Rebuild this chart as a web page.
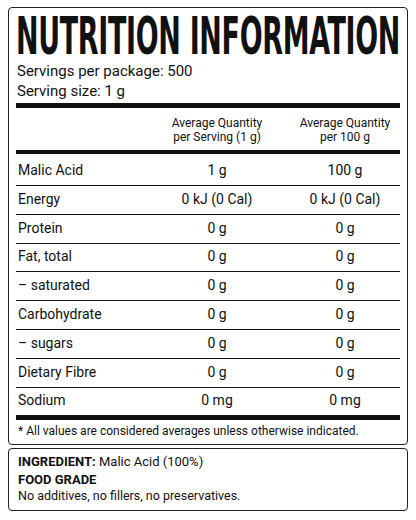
<!DOCTYPE html><html><head><meta charset="utf-8">
<script src="https://cdn.jsdelivr.net/npm/chart.js@4"></script>
<style>
body{margin:0;width:416px;height:520px;background:#fff;font-family:Roboto,"Noto Sans",sans-serif;color:#111;position:relative;overflow:hidden}
.box{position:absolute;border:1.5px solid #222;border-radius:4px;box-sizing:border-box}
.t{position:absolute;white-space:nowrap;line-height:1}
.c{transform:translateX(-50%);text-align:center}
.hr{position:absolute;left:16px;width:384px;background:#111}
#title{position:absolute;left:16px;top:15px;font-family:"Liberation Sans Narrow","DejaVu Sans Condensed",sans-serif;font-weight:bold;font-size:51px;line-height:0.85;transform-origin:0 0;white-space:nowrap;letter-spacing:-0.5px}
</style></head><body>
<div class="box" style="left:8px;top:7px;width:400px;height:438px"></div>
<div class="box" style="left:8px;top:448px;width:400px;height:63px"></div>
<div id="title">NUTRITION INFORMATION</div>
<div id="root"></div>
<script>
const title="NUTRITION INFORMATION";
const servingsLines=["Servings per package: 500","Serving size: 1 g"];
const headers=[["Average Quantity","per Serving (1 g)"],["Average Quantity","per 100 g"]];
const nutrients=["Malic Acid","Energy","Protein","Fat, total","\u2013 saturated","Carbohydrate","\u2013 sugars","Dietary Fibre","Sodium"];
const perServing=["1 g","0 kJ (0 Cal)","0 g","0 g","0 g","0 g","0 g","0 g","0 mg"];
const per100g=["100 g","0 kJ (0 Cal)","0 g","0 g","0 g","0 g","0 g","0 g","0 mg"];
const footnote="* All values are considered averages unless otherwise indicated.";
const ingredientLabel="INGREDIENT:", ingredientText=" Malic Acid (100%)";
const grade="FOOD GRADE", gradeNote="No additives, no fillers, no preservatives.";

const root=document.getElementById('root');
function t(txt,x,y,size,extra){const d=document.createElement('div');d.className='t'+(extra&&extra.c?' c':'');d.style.left=x+'px';d.style.top=y+'px';d.style.fontSize=size+'px';if(extra&&extra.w)d.style.fontWeight=extra.w;if(extra&&extra.html)d.innerHTML=txt;else d.textContent=txt;root.appendChild(d);return d;}
function hr(y,h){const d=document.createElement('div');d.className='hr';d.style.top=y+'px';d.style.height=h+'px';root.appendChild(d);}
const ti=document.getElementById('title');ti.textContent=title;
const w=ti.getBoundingClientRect().width;ti.style.transform='scale('+(384/w)+',1)';
t(servingsLines[0],17,64,15);t(servingsLines[1],17,84,15);
hr(103,5);
headers.forEach((h,i)=>{const x=i?345:217;t(h[0],x,117,12,{c:1});t(h[1],x,131,12,{c:1});});
hr(150,4);
nutrients.forEach((n,i)=>{const y=163+i*28.8;t(n,18,y,14);t(perServing[i],217,y,14,{c:1});t(per100g[i],345,y,14,{c:1});if(i<nutrients.length-1)hr(y+22,1);});
hr(415,5);
t(footnote,18,425,12);
t('<b>'+ingredientLabel+'</b>'+ingredientText,18,455,13,{html:1});
t(grade,18,473,13,{w:'bold'});
t(gradeNote,18,490,12.5);
</script></body></html>
